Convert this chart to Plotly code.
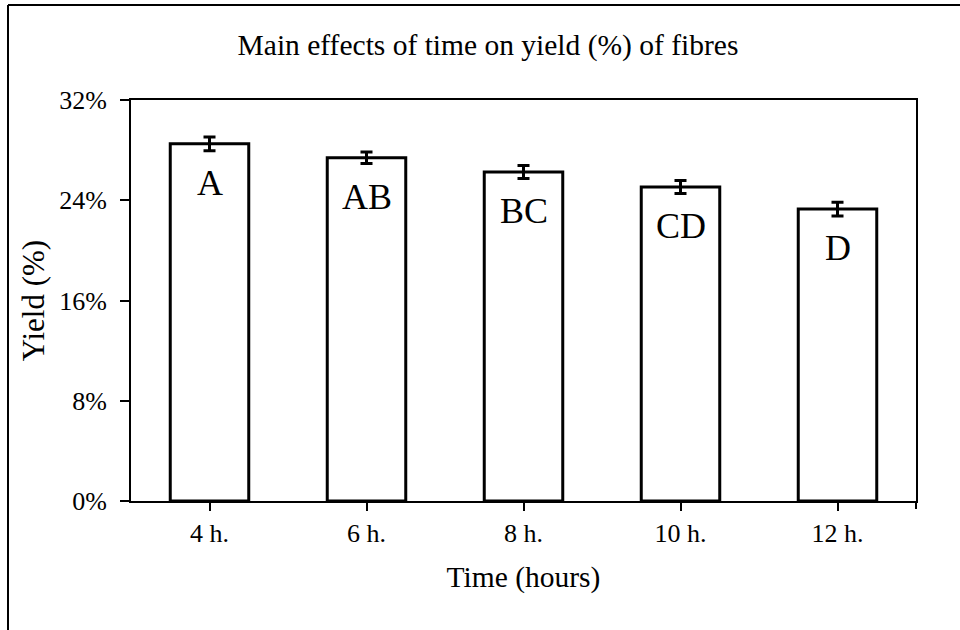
import plotly.graph_objects as go

categories = ["4 h.", "6 h.", "8 h.", "10 h.", "12 h."]
yield_pct = [28.5, 27.4, 26.25, 25.05, 23.3]
err_pct = [0.55, 0.46, 0.52, 0.52, 0.55]
group_letters = ["A", "AB", "BC", "CD", "D"]
y_ticks = [0, 8, 16, 24, 32]
y_tick_labels = ["0%", "8%", "16%", "24%", "32%"]

FONT = "Liberation Serif"

fig = go.Figure()
fig.add_trace(go.Bar(
    x=categories, y=yield_pct, width=0.5,
    marker=dict(color="white", line=dict(color="black", width=3)),
    error_y=dict(type="data", array=err_pct, visible=True,
                 color="black", thickness=3, width=6),
    showlegend=False,
))

for c, v, t in zip(categories, yield_pct, group_letters):
    fig.add_annotation(x=c, y=v, text=t, showarrow=False, yshift=-39,
                       yanchor="middle", font=dict(family=FONT, size=36, color="black"))

W, H = 960, 630
L, R, T, B = 131, 44, 100, 129
pw, ph = W - L - R, H - T - B

def px_x(px):
    return (px - L) / pw

def px_y(py):
    return (H - B - py) / ph

# outer frame (top and left visible)
fig.add_shape(type="line", xref="paper", yref="paper",
              x0=px_x(8), x1=px_x(970), y0=px_y(5), y1=px_y(5),
              line=dict(color="black", width=2))
fig.add_shape(type="line", xref="paper", yref="paper",
              x0=px_x(8), x1=px_x(8), y0=px_y(5), y1=px_y(640),
              line=dict(color="black", width=2))
# end tick on category axis
fig.add_shape(type="line", xref="paper", yref="paper",
              x0=1, x1=1, y0=0, y1=px_y(H - B + 8),
              line=dict(color="black", width=2))

fig.update_layout(
    width=W, height=H,
    margin=dict(l=L, r=R, t=T, b=B),
    paper_bgcolor="white", plot_bgcolor="white",
    font=dict(family=FONT, color="black"),
    title=dict(text="Main effects of time on yield (%) of fibres",
               x=488 / W, xanchor="center",
               y=1 - 45 / H, yanchor="middle",
               font=dict(family=FONT, size=29.5, color="black")),
    bargap=0.5,
)
fig.update_xaxes(
    showline=True, linecolor="black", linewidth=2, mirror=True,
    ticks="outside", ticklen=8, tickwidth=2, tickcolor="black",
    tickfont=dict(family=FONT, size=26, color="black"),
    title=dict(text="Time (hours)", font=dict(family=FONT, size=29.5, color="black"), standoff=19),
    showgrid=False,
)
fig.update_yaxes(
    range=[0, 32], tickvals=y_ticks, ticktext=y_tick_labels,
    showline=True, linecolor="black", linewidth=2, mirror=True,
    ticks="outside", ticklen=9, tickwidth=2, tickcolor="black",
    tickfont=dict(family=FONT, size=26, color="black"),
    ticklabelstandoff=8,
    title=dict(text="Yield (%)", font=dict(family=FONT, size=31, color="black"), standoff=5),
    showgrid=False, zeroline=False,
)

fig.write_html("out.html")
